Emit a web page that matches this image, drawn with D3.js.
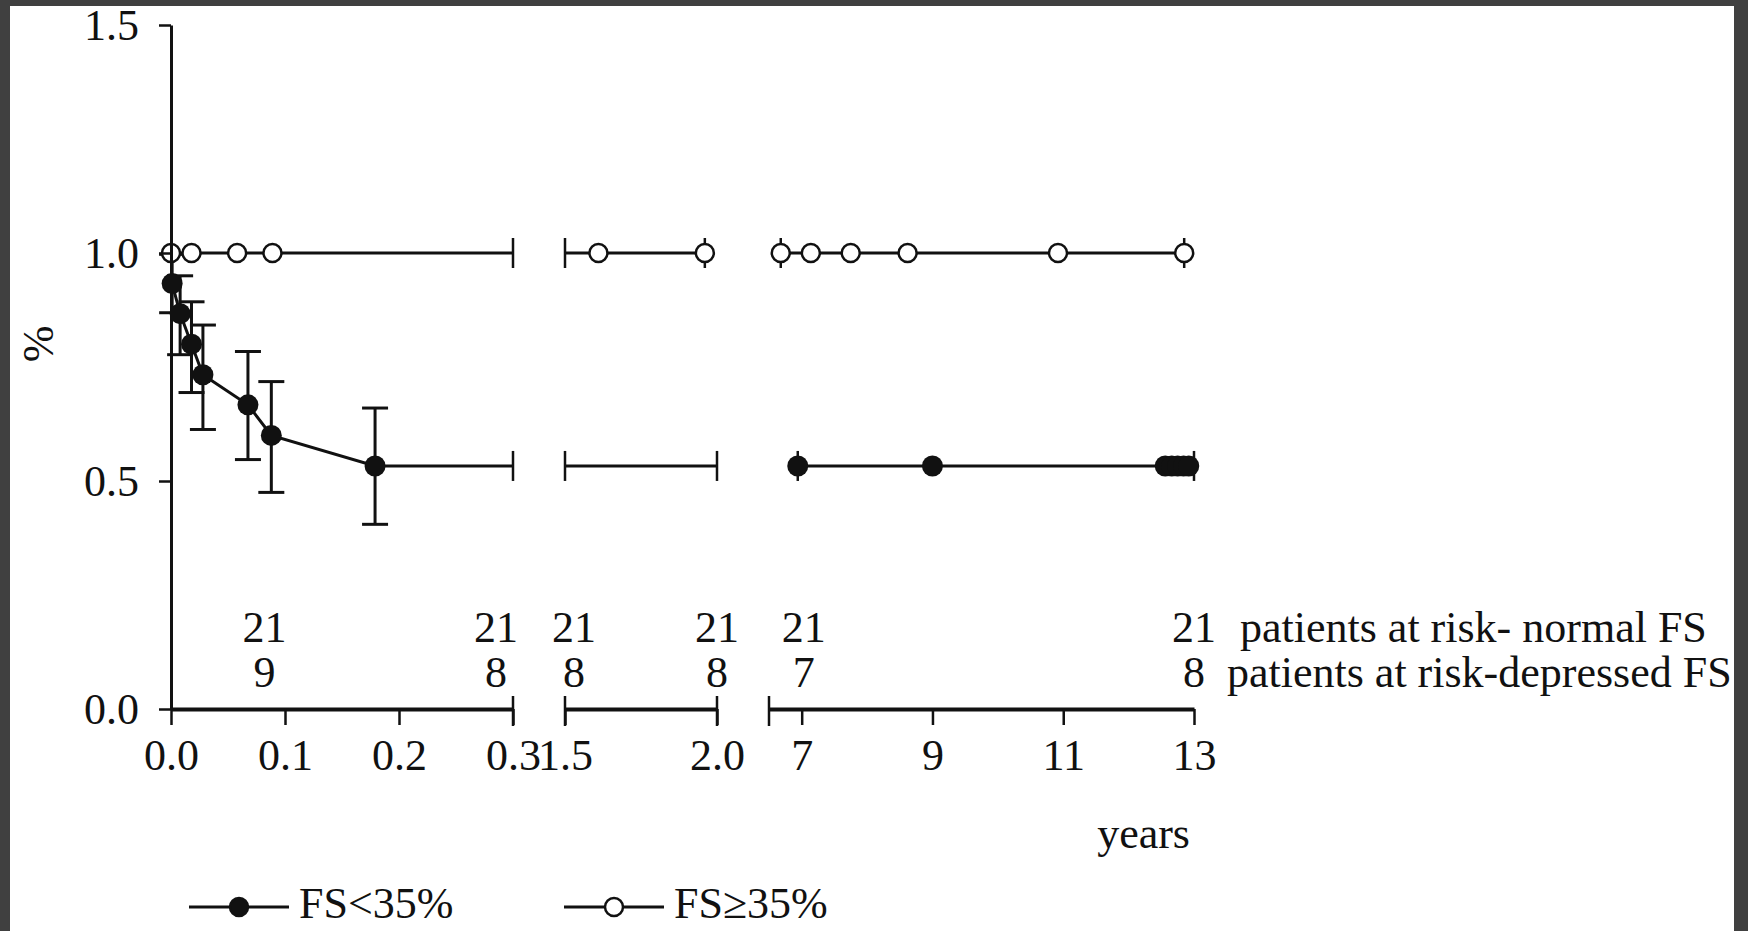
<!DOCTYPE html>
<html>
<head>
<meta charset="utf-8">
<script src="https://cdn.jsdelivr.net/npm/d3@7"></script>
<style>
	body { margin: 0; background: #404040; }
	svg text { font-family: "Liberation Serif", "Times New Roman", serif; fill: #111; }
</style>
</head>
<body>
<div id="chart"></div>
<script>

// ---- data ----
const yTicks = [0, 0.5, 1.0, 1.5];
const seg1Ticks = [0, 0.1, 0.2, 0.3];
const seg2Ticks = [1.5, 2.0];
const seg3Ticks = [7, 9, 11, 13];

// FS < 35% (depressed), filled markers
const depTimes = [0.001, 0.008, 0.018, 0.028, 0.0675, 0.088, 0.179, 6.94, 9.0, 12.56, 12.66, 12.75, 12.84, 12.92];
const depSurv  = [0.933, 0.867, 0.800, 0.733, 0.667, 0.600, 0.533, 0.533, 0.533, 0.533, 0.533, 0.533, 0.533, 0.533];
const depUpper = [0.997, 0.950, 0.893, 0.842, 0.784, 0.718, 0.660];
const depLower = [0.869, 0.777, 0.694, 0.613, 0.547, 0.475, 0.405];
const depRuns  = [[0.001, 0.3], [1.5, 2.0], [6.94, 13]];
const depBars  = [0.3, 1.5, 2.0, 6.94, 13];

// FS >= 35% (normal), open markers
const normTimes = [0, 0.018, 0.058, 0.089, 1.61, 1.96, 6.68, 7.14, 7.75, 8.62, 10.92, 12.85];
const normSurv  = [1, 1, 1, 1, 1, 1, 1, 1, 1, 1, 1, 1];
const normRuns  = [[0, 0.3], [1.5, 1.96], [6.68, 12.85]];
const normBars  = [0.3, 1.5, 1.96, 6.68, 12.85];

// patients at risk
const riskTimes = [0.082, 0.285, 1.53, 2.0, 7.03, 13];
const riskNormal = [21, 21, 21, 21, 21, 21];
const riskDepressed = [9, 8, 8, 8, 7, 8];

// ---- drawing ----
const W = 1748, H = 931;
const FONT = 44;

const svg = d3.select("#chart").append("svg")
	.attr("width", W)
	.attr("height", H);

// dark frame + white panel
svg.append("rect").attr("width", W).attr("height", H).attr("fill", "#404040");
svg.append("rect").attr("x", 10).attr("y", 6).attr("width", W - 24).attr("height", H - 6).attr("fill", "#fff");

const y = d3.scaleLinear().domain([0, 1.5]).range([709, 25]);
const y0 = y(0);

// broken x axis: three pieces
const segments = [
	{domain: [0, 0.3], range: [171, 513], ticks: seg1Ticks, fmt: d3.format(".1f"), bars: [false, true]},
	{domain: [1.5, 2.0], range: [565, 717], ticks: seg2Ticks, fmt: d3.format(".1f"), bars: [true, true]},
	{domain: [6.5, 13], range: [769, 1194], ticks: seg3Ticks, fmt: d3.format("d"), bars: [true, false]}
];
segments.forEach(s => s.scale = d3.scaleLinear().domain(s.domain).range(s.range));

function x(t) {
	const s = segments.find(s => t >= s.domain[0] - 1e-9 && t <= s.domain[1] + 1e-9);
	return s.scale(t);
}

// survival value in force at time t
function survAt(times, surv, t) {
	let v = surv[0];
	times.forEach((tt, i) => { if (tt <= t + 1e-9) v = surv[i]; });
	return v;
}

const line = d3.line()
	.x(d => x(d[0]))
	.y(d => y(d[1]));

// x axis pieces
segments.forEach(s => {
	const g = svg.append("g")
		.attr("class", "x-axis")
		.attr("transform", "translate(0," + y0 + ")")
		.call(d3.axisBottom(s.scale).tickValues(s.ticks).tickFormat(s.fmt)
			.tickSize(16).tickSizeOuter(0).tickPadding(14));
	g.attr("font-size", FONT).attr("font-family", null).attr("color", "#111");
	g.select(".domain").attr("stroke-width", 4);
	g.selectAll(".tick line").attr("stroke-width", 2.5);

	s.range.forEach((r, i) => {
		if (!s.bars[i]) return;
		g.append("line")
			.attr("x1", r).attr("x2", r)
			.attr("y1", -13).attr("y2", 17)
			.attr("stroke", "#111")
			.attr("stroke-width", 2.5);
	});
});

function drawSeries(times, surv, runs, bars) {
	const g = svg.append("g");
	runs.forEach(run => {
		const pts = [[run[0], survAt(times, surv, run[0])]];
		times.forEach((t, i) => {
			if (t > run[0] && t < run[1]) pts.push([t, surv[i]]);
		});
		pts.push([run[1], survAt(times, surv, run[1])]);
		g.append("path")
			.datum(pts)
			.attr("d", line)
			.attr("fill", "none")
			.attr("stroke", "#111")
			.attr("stroke-width", 3);
	});
	g.selectAll(".bar")
		.data(bars)
		.enter().append("line")
		.attr("x1", d => x(d)).attr("x2", d => x(d))
		.attr("y1", d => y(survAt(times, surv, d)) - 15)
		.attr("y2", d => y(survAt(times, surv, d)) + 15)
		.attr("stroke", "#111")
		.attr("stroke-width", 2.5);
	return g;
}

drawSeries(normTimes, normSurv, normRuns, normBars);
drawSeries(depTimes, depSurv, depRuns, depBars);

// error bars on the early depressed-FS points
const eb = svg.append("g");
depUpper.forEach((u, i) => {
	const cx = x(depTimes[i]);
	eb.append("line")
		.attr("x1", cx).attr("x2", cx)
		.attr("y1", y(u)).attr("y2", y(depLower[i]))
		.attr("stroke", "#111").attr("stroke-width", 3);
	[u, depLower[i]].forEach(v => {
		eb.append("line")
			.attr("x1", cx - 13).attr("x2", cx + 13)
			.attr("y1", y(v)).attr("y2", y(v))
			.attr("stroke", "#111").attr("stroke-width", 3);
	});
});

// markers
svg.append("g").selectAll("circle")
	.data(normTimes.map((t, i) => [t, normSurv[i]]))
	.enter().append("circle")
	.attr("cx", d => x(d[0]))
	.attr("cy", d => y(d[1]))
	.attr("r", 9)
	.attr("fill", "#fff")
	.attr("stroke", "#111")
	.attr("stroke-width", 2.5);

svg.append("g").selectAll("circle")
	.data(depTimes.map((t, i) => [t, depSurv[i]]))
	.enter().append("circle")
	.attr("cx", d => x(d[0]))
	.attr("cy", d => y(d[1]))
	.attr("r", 10.5)
	.attr("fill", "#111");

// y axis
const yAxis = svg.append("g")
	.attr("class", "y-axis")
	.attr("transform", "translate(171,0)")
	.call(d3.axisLeft(y).tickValues(yTicks).tickFormat(d3.format(".1f"))
		.tickSize(12).tickSizeOuter(0).tickPadding(20));
yAxis.attr("font-size", FONT).attr("font-family", null).attr("color", "#111");
yAxis.select(".domain").attr("stroke-width", 3);
yAxis.selectAll(".tick line").attr("stroke-width", 2.5);

svg.append("text")
	.attr("transform", "translate(53,344) rotate(-90)")
	.attr("text-anchor", "middle")
	.attr("font-size", FONT)
	.text("%");

svg.append("text")
	.attr("x", 1190).attr("y", 848)
	.attr("text-anchor", "end")
	.attr("font-size", FONT)
	.text("years");

// patients at risk rows
const rows = [
	{values: riskNormal, y: 642, label: "patients at risk- normal FS", lx: 1240},
	{values: riskDepressed, y: 687, label: "patients at risk-depressed FS", lx: 1227}
];
rows.forEach(r => {
	svg.append("g").selectAll("text")
		.data(r.values)
		.enter().append("text")
		.attr("x", (d, i) => x(riskTimes[i]))
		.attr("y", r.y)
		.attr("text-anchor", "middle")
		.attr("font-size", FONT)
		.text(d => d);
	svg.append("text")
		.attr("x", r.lx).attr("y", r.y)
		.attr("font-size", FONT)
		.text(r.label);
});

// legend
const legendItems = [
	{label: "FS<35%", filled: true, x0: 189},
	{label: "FS\u226535%", filled: false, x0: 564}
];
const lg = svg.append("g").attr("transform", "translate(0,907)");
legendItems.forEach(d => {
	lg.append("line")
		.attr("x1", d.x0).attr("x2", d.x0 + 100)
		.attr("stroke", "#111").attr("stroke-width", 3);
	lg.append("circle")
		.attr("cx", d.x0 + 50).attr("r", 9)
		.attr("fill", d.filled ? "#111" : "#fff")
		.attr("stroke", "#111").attr("stroke-width", 2.5);
	lg.append("text")
		.attr("x", d.x0 + 110).attr("y", 11)
		.attr("font-size", FONT)
		.text(d.label);
});

</script>
</body>
</html>
